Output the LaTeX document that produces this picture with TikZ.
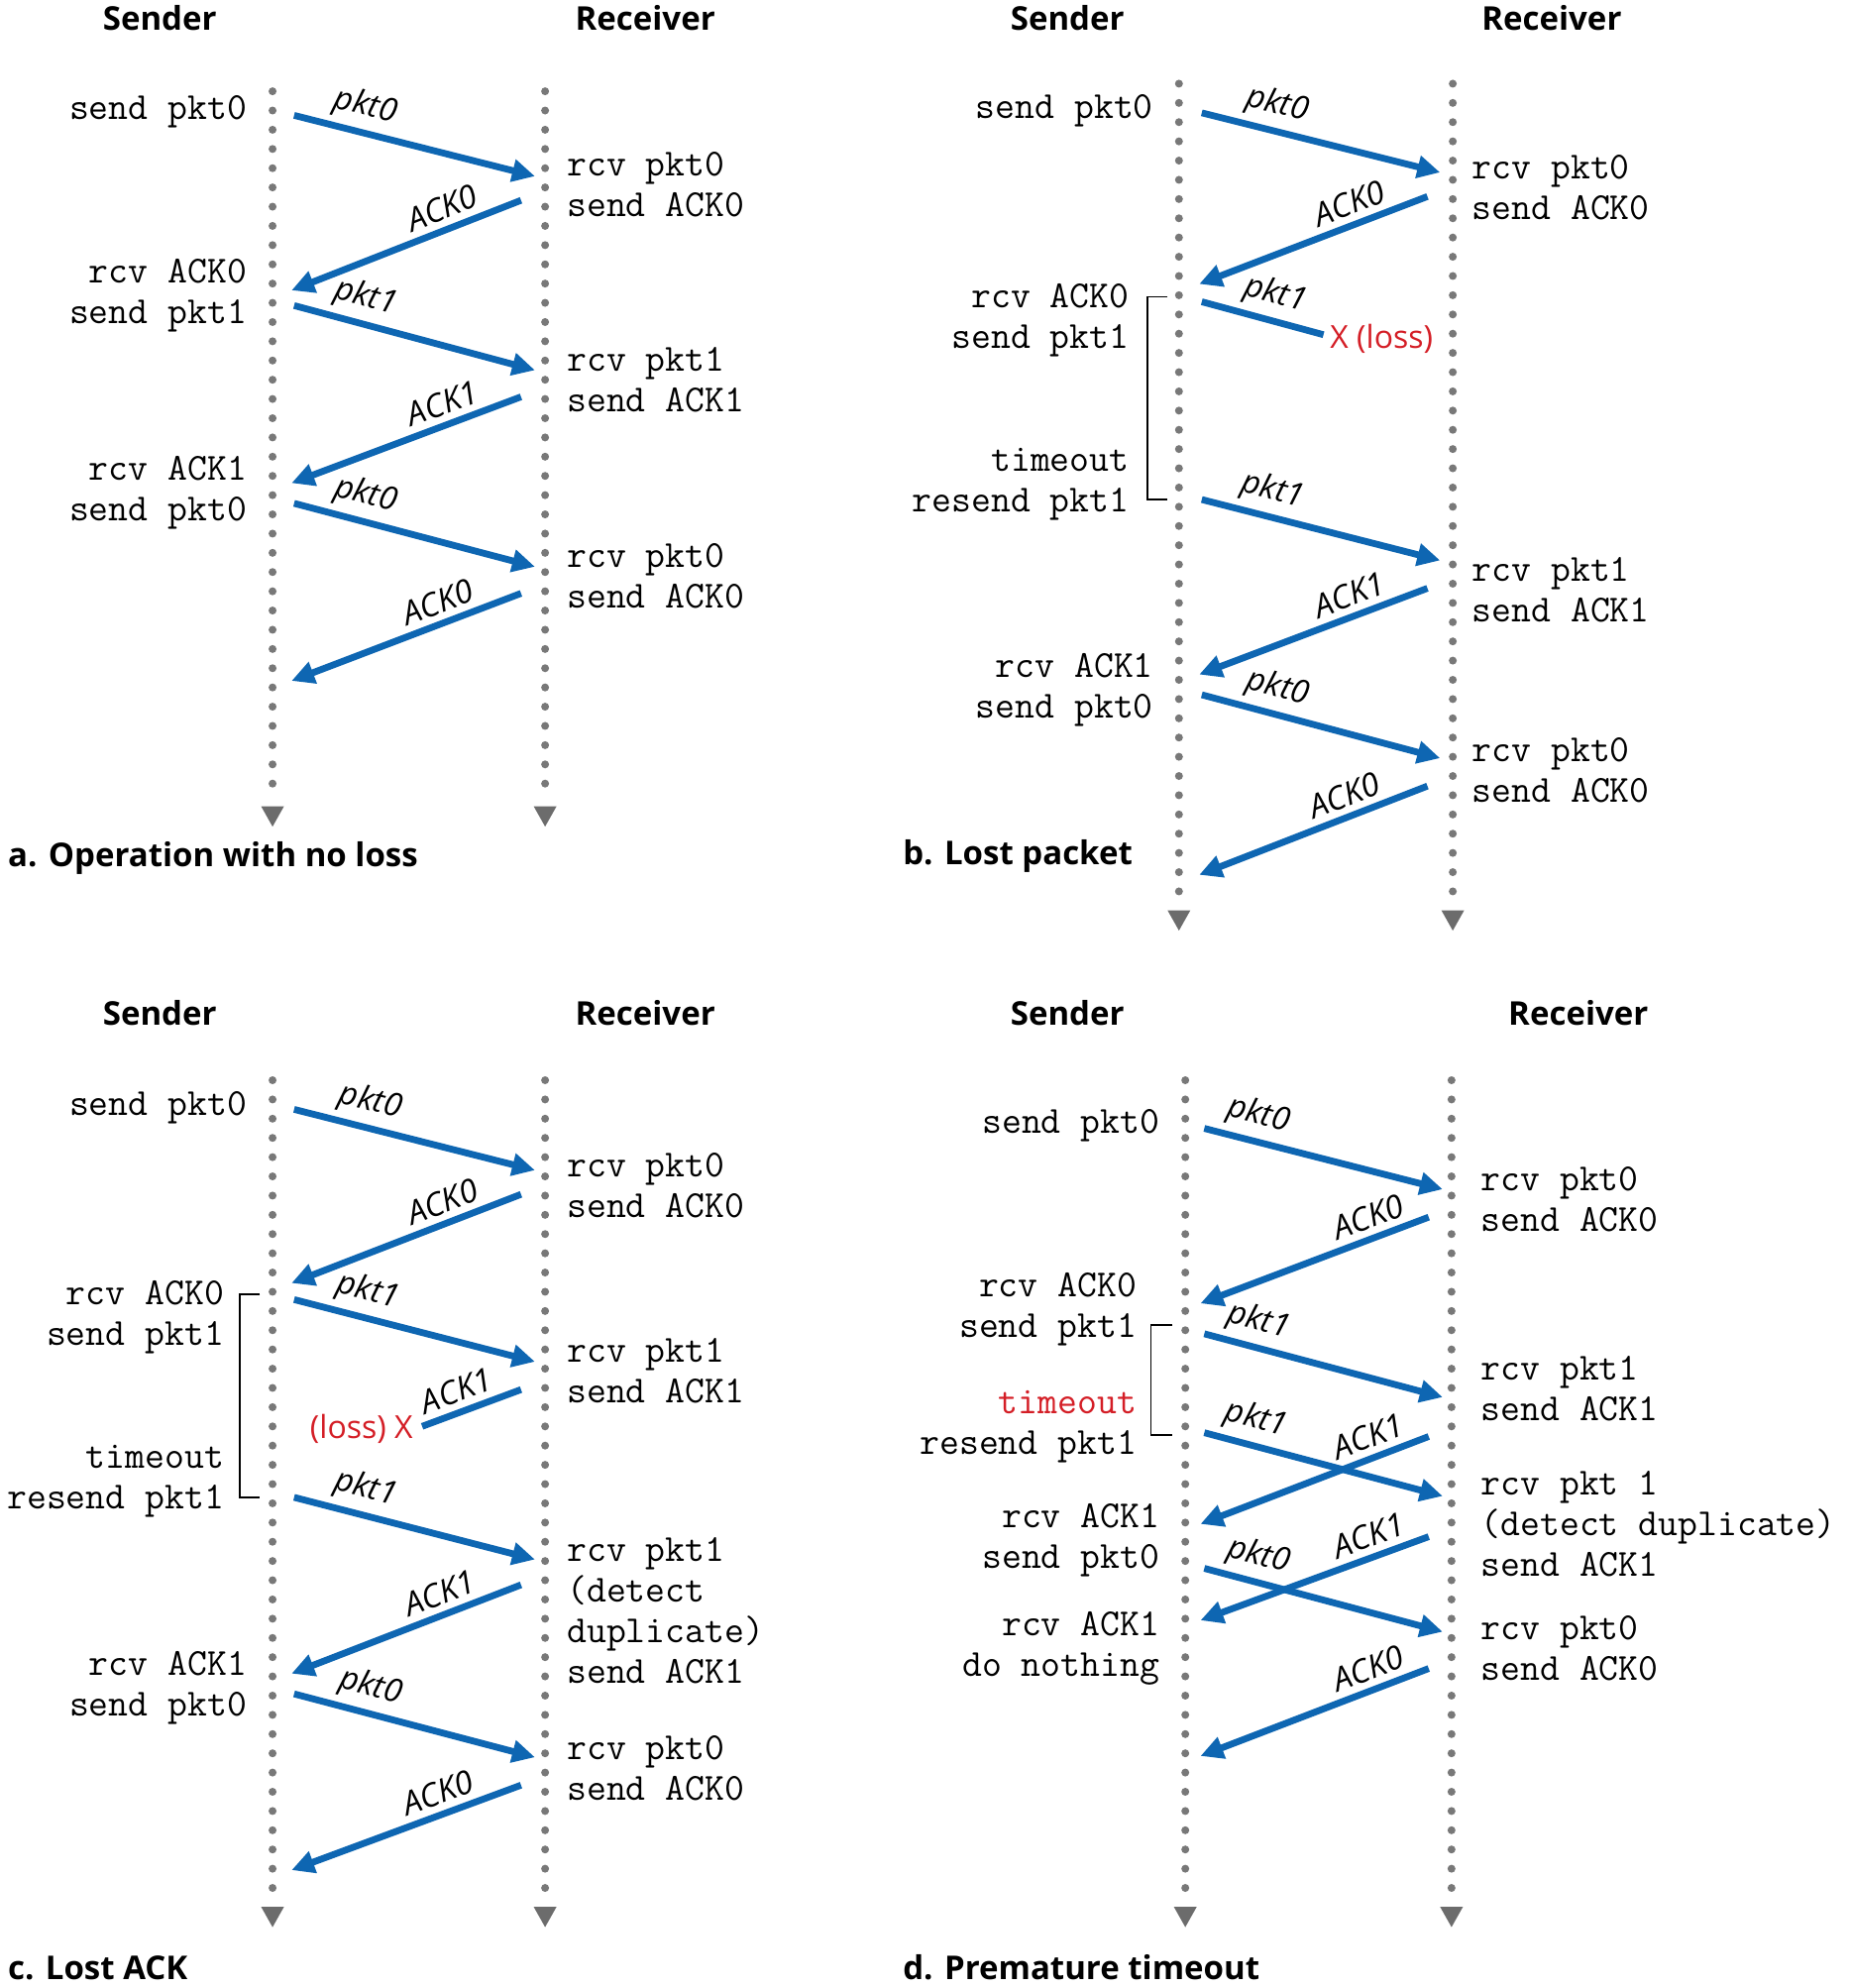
\documentclass[tikz,border=0pt]{standalone}
\usepackage{fontspec}
\setsansfont{Open Sans}
\usetikzlibrary{arrows.meta}
\definecolor{arrblue}{RGB}{14,102,178}
\definecolor{dotgray}{RGB}{120,120,120}
\definecolor{trigray}{RGB}{108,108,108}
\definecolor{lossred}{RGB}{212,30,38}
\newcommand\evfont{\fontsize{19.3}{20.5}\selectfont\ttfamily}
\tikzset{
  life/.style={draw=dotgray, line width=4pt, line cap=round, dash pattern=on 0pt off 9.7pt},
  msg/.style={draw=arrblue, line width=3.4pt, -{Triangle[length=11.5pt,width=11pt]}},
  lostmsg/.style={draw=arrblue, line width=3.4pt},
  mlab/.style={font=\fontsize{16.3}{16}\selectfont\sffamily\itshape, sloped, above, inner sep=3.2pt},
  evr/.style={font=\evfont, align=left, anchor=west, inner sep=0pt},
  evs/.style={font=\evfont, align=right, anchor=east, inner sep=0pt},
  ttl/.style={font=\fontsize{16.5}{18}\selectfont\sffamily\bfseries, inner sep=0pt},
  captxt/.style={font=\fontsize{16.5}{18}\selectfont\sffamily\bfseries, inner sep=0pt, anchor=west},
  brk/.style={draw=black, line width=0.8pt},
  losslab/.style={text=lossred, font=\fontsize{16}{16}\selectfont\sffamily, inner sep=0pt},
  tri/.style={fill=trigray}
}
\begin{document}
\begin{tikzpicture}[x=0.6395pt,y=-0.6395pt]
\path[use as bounding box] (0,0) rectangle (1459,1568);

% ================= Panel a =================
\node[ttl] (aT1) at (126,14) {Sender};
\node[ttl] (aT2) at (509,14) {Receiver};
\coordinate (aSt) at (215,72); \coordinate (aSb) at (215,628);
\coordinate (aRt) at (430,72); \coordinate (aRb) at (430,628);
\draw[life] (aSt) -- (aSb);
\draw[life] (aRt) -- (aRb);
\fill[tri] (aSb) ++(-9,8) -- ++(18,0) -- ++(-9,16) -- cycle;
\fill[tri] (aRb) ++(-9,8) -- ++(18,0) -- ++(-9,16) -- cycle;

\coordinate (a1s) at (232,91);  \coordinate (a1e) at (422,139);
\coordinate (a2s) at (411,158); \coordinate (a2e) at (230,229);
\coordinate (a3s) at (232,241); \coordinate (a3e) at (422,292);
\coordinate (a4s) at (411,313); \coordinate (a4e) at (230,381);
\coordinate (a5s) at (232,397); \coordinate (a5e) at (422,447);
\coordinate (a6s) at (411,468); \coordinate (a6e) at (230,537);
\draw[msg] (a1s) -- node[mlab,pos=0.27] (a1l) {pkt0} (a1e);
\draw[msg] (a2s) -- node[mlab,pos=0.31] (a2l) {ACK0} (a2e);
\draw[msg] (a3s) -- node[mlab,pos=0.27] (a3l) {pkt1} (a3e);
\draw[msg] (a4s) -- node[mlab,pos=0.31] (a4l) {ACK1} (a4e);
\draw[msg] (a5s) -- node[mlab,pos=0.27] (a5l) {pkt0} (a5e);
\draw[msg] (a6s) -- node[mlab,pos=0.33] (a6l) {ACK0} (a6e);

\node[evs] (aE1) at (195,88) {send pkt0};
\node[evs] (aE2) at (195,233) {rcv ACK0\\send pkt1};
\node[evs] (aE3) at (195,389) {rcv ACK1\\send pkt0};
\node[evr] (aE4) at (447,145.5) {rcv pkt0\\send ACK0};
\node[evr] (aE5) at (447,299.5) {rcv pkt1\\send ACK1};
\node[evr] (aE6) at (447,454.5) {rcv pkt0\\send ACK0};
\node[captxt] (aC) at (6,677) {a. Operation with no loss};

% ================= Panel b =================
\node[ttl] (bT1) at (842,14) {Sender};
\node[ttl] (bT2) at (1224,14) {Receiver};
\coordinate (bSt) at (930,66); \coordinate (bSb) at (930,710);
\coordinate (bRt) at (1146,66); \coordinate (bRb) at (1146,710);
\draw[life] (bSt) -- (bSb);
\draw[life] (bRt) -- (bRb);
\fill[tri] (bSb) ++(-9,8) -- ++(18,0) -- ++(-9,16) -- cycle;
\fill[tri] (bRb) ++(-9,8) -- ++(18,0) -- ++(-9,16) -- cycle;

\coordinate (b1s) at (948,89);   \coordinate (b1e) at (1136,136);
\coordinate (b2s) at (1126,155); \coordinate (b2e) at (946,224);
\coordinate (b3s) at (948,238);  \coordinate (b3e) at (1044,264);
\coordinate (b4s) at (948,394);  \coordinate (b4e) at (1136,442);
\coordinate (b5s) at (1126,464); \coordinate (b5e) at (946,532);
\coordinate (b6s) at (948,548);  \coordinate (b6e) at (1136,598);
\coordinate (b7s) at (1126,620); \coordinate (b7e) at (946,690);
\draw[msg] (b1s) -- node[mlab,pos=0.29] (b1l) {pkt0} (b1e);
\draw[msg] (b2s) -- node[mlab,pos=0.31] (b2l) {ACK0} (b2e);
\draw[lostmsg] (b3s) -- node[mlab,pos=0.55] (b3l) {pkt1} (b3e);
\draw[msg] (b4s) -- node[mlab,pos=0.27] (b4l) {pkt1} (b4e);
\draw[msg] (b5s) -- node[mlab,pos=0.31] (b5l) {ACK1} (b5e);
\draw[msg] (b6s) -- node[mlab,pos=0.29] (b6l) {pkt0} (b6e);
\draw[msg] (b7s) -- node[mlab,pos=0.33] (b7l) {ACK0} (b7e);
\node[losslab, anchor=west] (bX) at (1049,267) {X (loss)};
\coordinate (bB1) at (921,234); \coordinate (bB2) at (921,394);
\draw[brk] (bB1) -- ++(-16,0) |- (bB2);

\node[evs] (bE1) at (910,87) {send pkt0};
\node[evs] (bE2) at (891,252.5) {rcv ACK0\\send pkt1};
\node[evs] (bE3) at (891,382) {timeout\\resend pkt1};
\node[evs] (bE4) at (910,544) {rcv ACK1\\send pkt0};
\node[evr] (bE5) at (1161,148) {rcv pkt0\\send ACK0};
\node[evr] (bE6) at (1161,465.5) {rcv pkt1\\send ACK1};
\node[evr] (bE7) at (1161,607.5) {rcv pkt0\\send ACK0};
\node[captxt] (bC) at (712,675) {b. Lost packet};

% ================= Panel c =================
\node[ttl] (cT1) at (126,799) {Sender};
\node[ttl] (cT2) at (509,799) {Receiver};
\coordinate (cSt) at (215,852); \coordinate (cSb) at (215,1496);
\coordinate (cRt) at (430,852); \coordinate (cRb) at (430,1496);
\draw[life] (cSt) -- (cSb);
\draw[life] (cRt) -- (cRb);
\fill[tri] (cSb) ++(-9,8) -- ++(18,0) -- ++(-9,16) -- cycle;
\fill[tri] (cRb) ++(-9,8) -- ++(18,0) -- ++(-9,16) -- cycle;

\coordinate (c1s) at (232,875);  \coordinate (c1e) at (422,923);
\coordinate (c2s) at (411,942);  \coordinate (c2e) at (230,1012);
\coordinate (c3s) at (232,1025); \coordinate (c3e) at (422,1074);
\coordinate (c4s) at (411,1096); \coordinate (c4e) at (333,1125);
\coordinate (c5s) at (232,1181); \coordinate (c5e) at (422,1230);
\coordinate (c6s) at (411,1250); \coordinate (c6e) at (230,1320);
\coordinate (c7s) at (232,1336); \coordinate (c7e) at (422,1386);
\coordinate (c8s) at (411,1408); \coordinate (c8e) at (230,1475);
\draw[msg] (c1s) -- node[mlab,pos=0.29] (c1l) {pkt0} (c1e);
\draw[msg] (c2s) -- node[mlab,pos=0.31] (c2l) {ACK0} (c2e);
\draw[msg] (c3s) -- node[mlab,pos=0.28] (c3l) {pkt1} (c3e);
\draw[lostmsg] (c4s) -- node[mlab,pos=0.58] (c4l) {ACK1} (c4e);
\draw[msg] (c5s) -- node[mlab,pos=0.27] (c5l) {pkt1} (c5e);
\draw[msg] (c6s) -- node[mlab,pos=0.32] (c6l) {ACK1} (c6e);
\draw[msg] (c7s) -- node[mlab,pos=0.29] (c7l) {pkt0} (c7e);
\draw[msg] (c8s) -- node[mlab,pos=0.33] (c8l) {ACK0} (c8e);
\node[losslab, anchor=east] (cX) at (326,1127) {(loss) X};
\coordinate (cB1) at (205,1021); \coordinate (cB2) at (205,1181);
\draw[brk] (cB1) -- ++(-16,0) |- (cB2);

\node[evs] (cE1) at (195,874) {send pkt0};
\node[evs] (cE2) at (177,1039) {rcv ACK0\\send pkt1};
\node[evs] (cE3) at (177,1168) {timeout\\resend pkt1};
\node[evs] (cE4) at (195,1331) {rcv ACK1\\send pkt0};
\node[evr] (cE5) at (447,935) {rcv pkt0\\send ACK0};
\node[evr] (cE6) at (447,1081.5) {rcv pkt1\\send ACK1};
\node[evr] (cE7) at (447,1270) {rcv pkt1\\(detect\\duplicate)\\send ACK1};
\node[evr] (cE8) at (447,1394.5) {rcv pkt0\\send ACK0};
\node[captxt] (cC) at (6,1552) {c. Lost ACK};

% ================= Panel d =================
\node[ttl] (dT1) at (842,799) {Sender};
\node[ttl] (dT2) at (1245,799) {Receiver};
\coordinate (dSt) at (935,852); \coordinate (dSb) at (935,1496);
\coordinate (dRt) at (1145,852); \coordinate (dRb) at (1145,1496);
\draw[life] (dSt) -- (dSb);
\draw[life] (dRt) -- (dRb);
\fill[tri] (dSb) ++(-9,8) -- ++(18,0) -- ++(-9,16) -- cycle;
\fill[tri] (dRb) ++(-9,8) -- ++(18,0) -- ++(-9,16) -- cycle;

\coordinate (d1s) at (950,890);   \coordinate (d1e) at (1138,938);
\coordinate (d2s) at (1127,960);  \coordinate (d2e) at (947,1028);
\coordinate (d3s) at (950,1052);  \coordinate (d3e) at (1138,1102);
\coordinate (d4s) at (950,1130);  \coordinate (d4e) at (1138,1180);
\coordinate (d5s) at (1127,1133); \coordinate (d5e) at (947,1202);
\coordinate (d6s) at (1127,1212); \coordinate (d6e) at (947,1278);
\coordinate (d7s) at (950,1237);  \coordinate (d7e) at (1138,1287);
\coordinate (d8s) at (1127,1316); \coordinate (d8e) at (947,1385);
\draw[msg] (d1s) -- node[mlab,pos=0.20] (d1l) {pkt0} (d1e);
\draw[msg] (d2s) -- node[mlab,pos=0.23] (d2l) {ACK0} (d2e);
\draw[msg] (d3s) -- node[mlab,pos=0.20] (d3l) {pkt1} (d3e);
\draw[msg] (d4s) -- node[mlab,pos=0.19] (d4l) {pkt1} (d4e);
\draw[msg] (d5s) -- node[mlab,pos=0.23] (d5l) {ACK1} (d5e);
\draw[msg] (d6s) -- node[mlab,pos=0.23] (d6l) {ACK1} (d6e);
\draw[msg] (d7s) -- node[mlab,pos=0.20] (d7l) {pkt0} (d7e);
\draw[msg] (d8s) -- node[mlab,pos=0.23] (d8l) {ACK0} (d8e);
\coordinate (dB1) at (925,1045); \coordinate (dB2) at (925,1132);
\draw[brk] (dB1) -- ++(-17,0) |- (dB2);

\node[evs] (dE1) at (915,888) {send pkt0};
\node[evs] (dE2) at (897,1033) {rcv ACK0\\send pkt1};
\node[evs] (dE3) at (897,1125) {{\color{lossred}timeout}\\resend pkt1};
\node[evs] (dE4) at (915,1215) {rcv ACK1\\send pkt0};
\node[evs] (dE5) at (915,1300) {rcv ACK1\\do nothing};
\node[evr] (dE6) at (1168,946) {rcv pkt0\\send ACK0};
\node[evr] (dE7) at (1168,1095.5) {rcv pkt1\\send ACK1};
\node[evr] (dE8) at (1168,1202) {rcv pkt 1\\(detect duplicate)\\send ACK1};
\node[evr] (dE9) at (1168,1300) {rcv pkt0\\send ACK0};
\node[captxt] (dC) at (712,1552) {d. Premature timeout};
\end{tikzpicture}
\end{document}
